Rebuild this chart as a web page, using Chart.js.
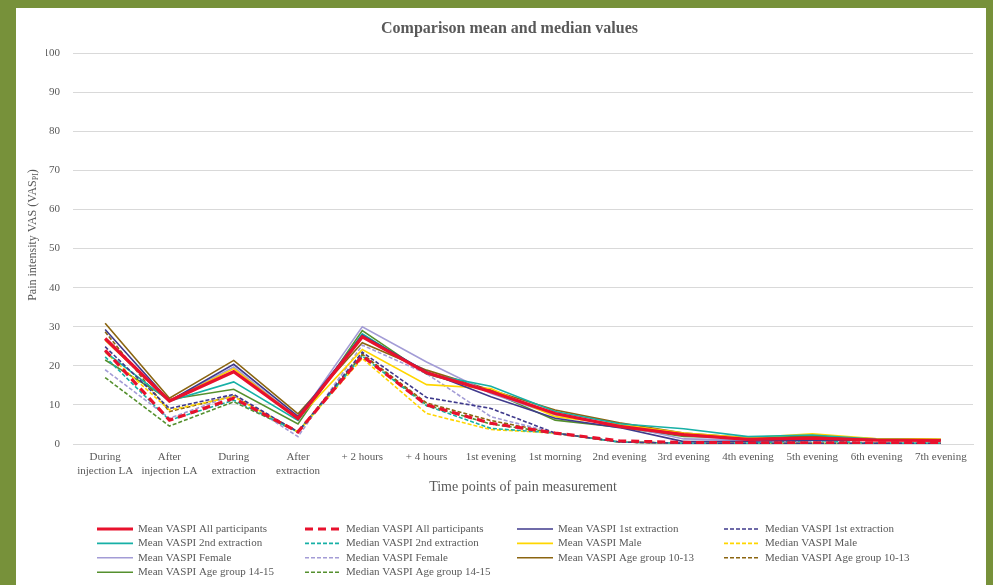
<!DOCTYPE html>
<html>
<head>
<meta charset="utf-8">
<script src="https://cdn.jsdelivr.net/npm/chart.js@4.4.0/dist/chart.umd.min.js"></script>
<style>
  body { margin: 0; background: #77913a; width: 993px; height: 585px; overflow: hidden; }
  #box { position: absolute; left: 16px; top: 8px; width: 970px; height: 577px; background: #ffffff; }
</style>
</head>
<body>
<div id="box"><canvas id="chartPain" width="970" height="577"></canvas></div>
<script>
// time points on the x axis
var timePoints = [
  ["During", "injection LA"], ["After", "injection LA"], ["During", "extraction"], ["After", "extraction"],
  "+ 2 hours", "+ 4 hours", "1st evening", "1st morning", "2nd evening",
  "3rd evening", "4th evening", "5th evening", "6th evening", "7th evening"
];
var yTicks = [0, 10, 20, 30, 40, 50, 60, 70, 80, 90, 100];

// values
var meanAll = [27, 11, 18.5, 6.5, 27.4, 18.2, 13.4, 7.8, 4.5, 2.4, 1.2, 1.5, 1.0, 0.9];
var medianAll = [24, 6.1, 11.7, 3.1, 22.5, 10, 5.3, 2.8, 0.8, 0.4, 0.3, 0.3, 0.3, 0.35];
var mean1st = [29.3, 11, 20.4, 7.1, 27.8, 18.5, 12.1, 6.6, 4.2, 0.6, 0.7, 1.0, 1.0, 1.0];
var median1st = [24.9, 9.1, 12.7, 3.1, 23.5, 11.9, 9.1, 2.8, 0.5, 0.2, 0.2, 0.2, 0.2, 0.2];
var mean2nd = [23.6, 11, 15.9, 6, 28.2, 18, 14.8, 8.3, 5.2, 3.9, 1.9, 2.3, 1.2, 1.0];
var median2nd = [22.3, 6.1, 11.2, 3.1, 22.5, 9.8, 4, 2.8, 0.5, 0.2, 0.2, 0.9, 0.2, 0.2];
var meanMale = [26.6, 11, 19.3, 6.5, 24.2, 15.2, 14.2, 7, 5, 2.8, 1.6, 2.6, 1.3, 1.2];
var medianMale = [23.5, 8.7, 12.1, 3.1, 21.9, 7.8, 3.7, 2.8, 0.5, 0.2, 0.2, 0.2, 0.2, 0.2];
var meanFemale = [26.6, 11, 19.7, 6.5, 30, 21, 12.9, 7.4, 4.8, 1.3, 1.0, 1.2, 1.0, 0.9];
var medianFemale = [19, 6.6, 12.5, 1.9, 25.3, 18, 7, 2.8, 0.5, 0.2, 0.2, 0.7, 0.2, 0.2];
var meanAge1013 = [30.9, 11.7, 21.4, 7.7, 25.9, 18.9, 13.8, 8.7, 5.4, 2.8, 1.6, 2.0, 1.3, 1.2];
var medianAge1013 = [28.7, 8.3, 12.3, 3.1, 23, 10.5, 6, 2.8, 0.5, 0.2, 0.2, 0.2, 0.2, 0.2];
var meanAge1415 = [21.5, 11.4, 14, 5.1, 29, 17.9, 13.4, 6.1, 4.3, 1.9, 1.6, 2.2, 1.2, 1.1];
var medianAge1415 = [17, 4.6, 10.8, 3.1, 22.8, 10, 5.1, 2.8, 0.5, 0.2, 0.2, 0.2, 0.2, 0.2];

var textColor = "#595959";
var serif = "'Liberation Serif', 'Times New Roman', serif";

function meanLine(label, data, color, width) {
  return { label: label, data: data, borderColor: color, backgroundColor: color,
    borderWidth: width || 1.6, pointRadius: 0, tension: 0, fill: false };
}
function medianLine(label, data, color, width, dash) {
  return { label: label, data: data, borderColor: color, backgroundColor: color,
    borderWidth: width || 1.6, borderDash: dash || [4, 2], pointRadius: 0, tension: 0, fill: false };
}

var datasets = [
  meanLine("Mean VASPI All participants", meanAll, "#e8112d", 3.2),
  medianLine("Median VASPI All participants", medianAll, "#e8112d", 3.2, [8, 5]),
  meanLine("Mean VASPI 1st extraction", mean1st, "#3f3a8c"),
  medianLine("Median VASPI 1st extraction", median1st, "#3f3a8c"),
  meanLine("Mean VASPI 2nd extraction", mean2nd, "#17b0a6"),
  medianLine("Median VASPI 2nd extraction", median2nd, "#17b0a6"),
  meanLine("Mean VASPI Male", meanMale, "#ffd600"),
  medianLine("Median VASPI Male", medianMale, "#ffd600"),
  meanLine("Mean VASPI Female", meanFemale, "#a39cd6"),
  medianLine("Median VASPI Female", medianFemale, "#a39cd6"),
  meanLine("Mean VASPI Age group 10-13", meanAge1013, "#8b6510"),
  medianLine("Median VASPI Age group 10-13", medianAge1013, "#8b6510"),
  meanLine("Mean VASPI Age group 14-15", meanAge1415, "#55902e"),
  medianLine("Median VASPI Age group 14-15", medianAge1415, "#55902e")
];

// y title with subscript + 4 column legend grid
var extrasPlugin = {
  id: "extras",
  afterDraw: function (chart) {
    var ctx = chart.ctx;
    ctx.save();
    ctx.fillStyle = textColor;
    ctx.textBaseline = "middle";
    ctx.translate(17, 227);
    ctx.rotate(-Math.PI / 2);
    var main = "Pain intensity VAS (VAS";
    ctx.font = "12px " + serif;
    var w1 = ctx.measureText(main).width;
    var w3 = ctx.measureText(")").width;
    ctx.font = "8px " + serif;
    var w2 = ctx.measureText("PI").width;
    var x = -(w1 + w2 + w3) / 2;
    ctx.font = "12px " + serif;
    ctx.fillText(main, x, 0);
    ctx.fillText(")", x + w1 + w2, 0);
    ctx.font = "8px " + serif;
    ctx.fillText("PI", x + w1, 3);
    ctx.restore();

    var colX = [81, 289, 501, 708];
    ctx.save();
    ctx.font = "11px " + serif;
    ctx.textBaseline = "middle";
    chart.data.datasets.forEach(function (ds, i) {
      var cx = colX[i % 4];
      var cy = 521 + Math.floor(i / 4) * 14.4;
      ctx.strokeStyle = ds.borderColor;
      ctx.lineWidth = ds.borderWidth;
      ctx.setLineDash(ds.borderDash || []);
      ctx.beginPath();
      ctx.moveTo(cx, cy);
      ctx.lineTo(cx + 36, cy);
      ctx.stroke();
      ctx.fillStyle = textColor;
      ctx.fillText(ds.label, cx + 41, cy);
    });
    ctx.restore();
  }
};

var chartPain = new Chart(document.getElementById("chartPain"), {
  type: "line",
  data: { labels: timePoints, datasets: datasets },
  plugins: [extrasPlugin],
  options: {
    responsive: false,
    animation: false,
    layout: { padding: { left: 30, right: 13, top: 0, bottom: 89 } },
    plugins: {
      legend: { display: false },
      tooltip: { enabled: false },
      title: {
        display: true,
        text: "Comparison mean and median values",
        color: textColor,
        font: { family: serif, size: 16, weight: "bold" },
        padding: { top: 11, bottom: 15 }
      }
    },
    scales: {
      x: {
        offset: true,
        grid: { display: false, drawTicks: false },
        border: { display: true, color: "#d9d9d9" },
        ticks: { color: textColor, font: { family: serif, size: 11 }, padding: 7, maxRotation: 0, autoSkip: false },
        title: { display: true, text: "Time points of pain measurement", color: textColor,
          font: { family: serif, size: 14 }, padding: { top: 0, bottom: 0 } },
        afterFit: function (scale) { scale.height = 52; }
      },
      y: {
        min: 0,
        max: 100,
        afterBuildTicks: function (scale) {
          scale.ticks = yTicks.map(function (v) { return { value: v }; });
        },
        grid: { color: "#d9d9d9", drawTicks: false },
        border: { display: false },
        ticks: { color: textColor, font: { family: serif, size: 11 }, padding: 13 },
        afterFit: function (scale) { scale.width = 27; }
      }
    }
  }
});
</script>
</body>
</html>
